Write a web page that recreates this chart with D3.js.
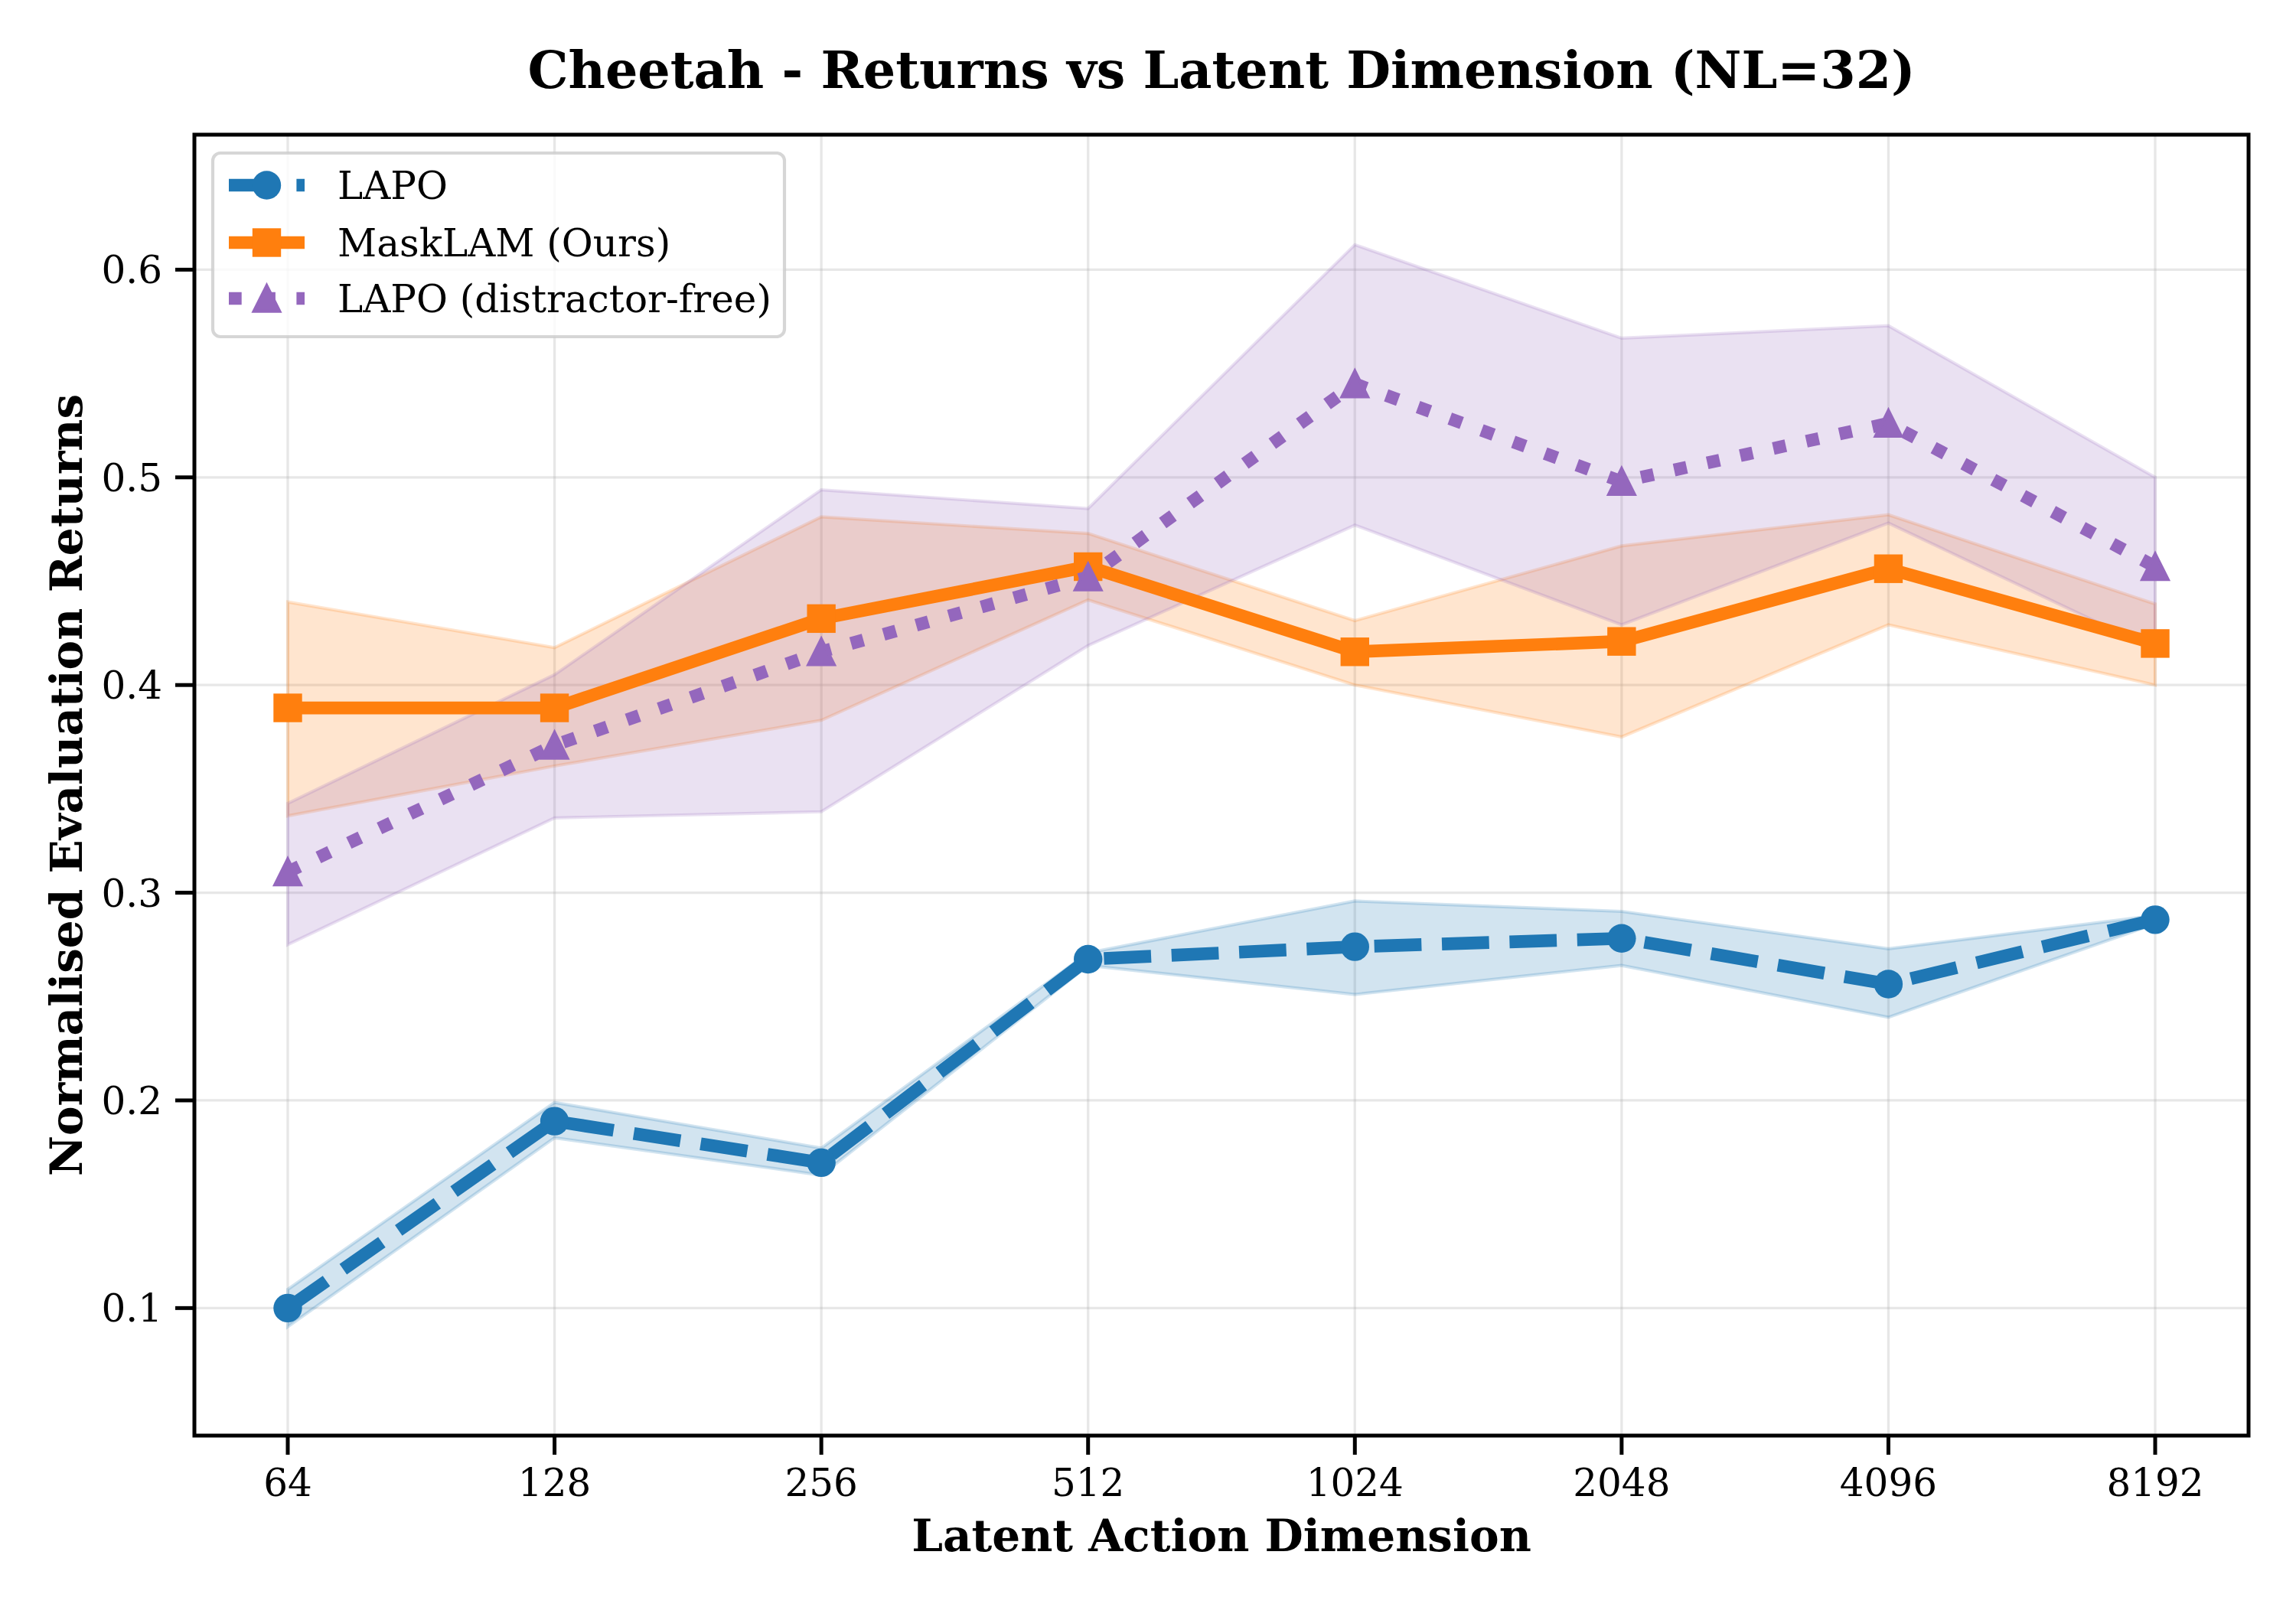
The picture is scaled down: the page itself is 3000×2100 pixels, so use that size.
<!DOCTYPE html>
<html>
<head>
<meta charset="utf-8">
<script src="https://cdn.jsdelivr.net/npm/d3@7"></script>
<style>
    body { margin: 0; background: #fff; }
    svg text { font-family: "DejaVu Serif", serif; fill: #000; }
</style>
</head>
<body>
<svg id="chart" width="3000" height="2100"></svg>
<script>
/** Latent action dimensions (x categories) */
const dims = [64, 128, 256, 512, 1024, 2048, 4096, 8192];

/** LAPO */
const lapoMean = [0.100, 0.190, 0.170, 0.268, 0.274, 0.278, 0.256, 0.287];
const lapoLow  = [0.091, 0.182, 0.164, 0.265, 0.251, 0.265, 0.240, 0.285];
const lapoHigh = [0.109, 0.199, 0.177, 0.271, 0.296, 0.291, 0.273, 0.289];

/** MaskLAM (Ours) */
const maskMean = [0.389, 0.389, 0.432, 0.457, 0.416, 0.421, 0.456, 0.420];
const maskLow  = [0.337, 0.361, 0.383, 0.441, 0.400, 0.375, 0.429, 0.400];
const maskHigh = [0.440, 0.418, 0.481, 0.473, 0.431, 0.467, 0.482, 0.439];

/** LAPO (distractor-free) */
const freeMean = [0.310, 0.371, 0.416, 0.452, 0.545, 0.498, 0.526, 0.457];
const freeLow  = [0.275, 0.336, 0.339, 0.419, 0.477, 0.429, 0.478, 0.417];
const freeHigh = [0.343, 0.405, 0.494, 0.485, 0.612, 0.567, 0.573, 0.500];

const yTicks = [0.1, 0.2, 0.3, 0.4, 0.5, 0.6];

const series = [
    { name: 'LAPO', color: '#1f77b4', mean: lapoMean, low: lapoLow, high: lapoHigh, dash: '61.7,26.7', marker: 'circle', cap: 'butt' },
    { name: 'MaskLAM (Ours)', color: '#ff7f0e', mean: maskMean, low: maskLow, high: maskHigh, dash: null, marker: 'square', cap: 'square' },
    { name: 'LAPO (distractor-free)', color: '#9467bd', mean: freeMean, low: freeLow, high: freeHigh, dash: '16.7,27.5', marker: 'triangle', cap: 'butt' }
];

/** Plot area */
const plotLeft = 254, plotRight = 2938, plotTop = 176, plotBottom = 1876;
const lw = 16.67;

let svg = d3.select('#chart');

let x = d3.scaleLog().base(2)
    .domain([64 / Math.pow(2, 0.35), 8192 * Math.pow(2, 0.35)])
    .range([plotLeft, plotRight]);

let y = d3.scaleLinear()
    .domain([0.0386, 0.665])
    .range([plotBottom, plotTop]);

/** Grid */
let grid = svg.append('g');
grid.selectAll('.gx').data(dims).enter().append('line')
    .attr('x1', d => x(d)).attr('x2', d => x(d))
    .attr('y1', plotTop).attr('y2', plotBottom)
    .attr('stroke', '#b0b0b0').attr('stroke-opacity', 0.3).attr('stroke-width', 3.3);
grid.selectAll('.gy').data(yTicks).enter().append('line')
    .attr('x1', plotLeft).attr('x2', plotRight)
    .attr('y1', d => y(d)).attr('y2', d => y(d))
    .attr('stroke', '#b0b0b0').attr('stroke-opacity', 0.3).attr('stroke-width', 3.3);

/** Std bands */
series.forEach(s => {
    let area = d3.area()
        .x((d, i) => x(dims[i]))
        .y0((d, i) => y(s.low[i]))
        .y1((d, i) => y(s.high[i]));
    svg.append('path')
        .attr('d', area(dims))
        .attr('fill', s.color).attr('fill-opacity', 0.2)
        .attr('stroke', s.color).attr('stroke-opacity', 0.2).attr('stroke-width', 4.2);
});

/** Marker drawing helper */
const drawMarker = (g, type, cx, cy, color) => {
    if (type === 'circle') {
        g.append('circle').attr('cx', cx).attr('cy', cy).attr('r', 18.7).attr('fill', color);
    } else if (type === 'square') {
        g.append('rect').attr('x', cx - 18.7).attr('y', cy - 18.7)
            .attr('width', 37.4).attr('height', 37.4).attr('fill', color);
    } else {
        let h = 16.67;
        g.append('path')
            .attr('d', `M${cx},${cy - h}L${cx - h},${cy + h}L${cx + h},${cy + h}Z`)
            .attr('fill', color).attr('stroke', color).attr('stroke-width', 4.2)
            .attr('stroke-linejoin', 'miter');
    }
};

/** Lines + markers */
series.forEach(s => {
    let line = d3.line()
        .x((d, i) => x(dims[i]))
        .y((d, i) => y(s.mean[i]));
    let g = svg.append('g');
    g.append('path')
        .attr('d', line(dims))
        .attr('fill', 'none')
        .attr('stroke', s.color).attr('stroke-width', lw)
        .attr('stroke-linejoin', 'round')
        .attr('stroke-linecap', s.cap)
        .attr('stroke-dasharray', s.dash);
    dims.forEach((d, i) => drawMarker(g, s.marker, x(d), y(s.mean[i]), s.color));
});

/** Frame */
svg.append('rect')
    .attr('x', plotLeft).attr('y', plotTop)
    .attr('width', plotRight - plotLeft).attr('height', plotBottom - plotTop)
    .attr('fill', 'none').attr('stroke', '#000').attr('stroke-width', 5);

/** X axis ticks */
let xAxis = svg.append('g');
xAxis.selectAll('line').data(dims).enter().append('line')
    .attr('x1', d => x(d)).attr('x2', d => x(d))
    .attr('y1', plotBottom).attr('y2', plotBottom + 25)
    .attr('stroke', '#000').attr('stroke-width', 5);
xAxis.selectAll('text').data(dims).enter().append('text')
    .attr('x', d => x(d)).attr('y', 1955)
    .attr('text-anchor', 'middle').attr('font-size', 50)
    .text(d => d);

/** Y axis ticks */
let yAxis = svg.append('g');
yAxis.selectAll('line').data(yTicks).enter().append('line')
    .attr('x1', plotLeft - 25).attr('x2', plotLeft)
    .attr('y1', d => y(d)).attr('y2', d => y(d))
    .attr('stroke', '#000').attr('stroke-width', 5);
yAxis.selectAll('text').data(yTicks).enter().append('text')
    .attr('x', 212).attr('y', d => y(d) + 18)
    .attr('text-anchor', 'end').attr('font-size', 50)
    .text(d => d.toFixed(1));

/** Axis labels and title */
svg.append('text')
    .attr('x', (plotLeft + plotRight) / 2).attr('y', 2027)
    .attr('text-anchor', 'middle').attr('font-size', 58).attr('font-weight', 'bold')
    .text('Latent Action Dimension');

svg.append('text')
    .attr('transform', `translate(107,${(plotTop + plotBottom) / 2}) rotate(-90)`)
    .attr('text-anchor', 'middle').attr('font-size', 58).attr('font-weight', 'bold')
    .text('Normalised Evaluation Returns');

svg.append('text')
    .attr('x', (plotLeft + plotRight) / 2).attr('y', 115)
    .attr('text-anchor', 'middle').attr('font-size', 66.7).attr('font-weight', 'bold')
    .text('Cheetah - Returns vs Latent Dimension (NL=32)');

/** Legend */
let legend = svg.append('g');
legend.append('rect')
    .attr('x', 278).attr('y', 200).attr('width', 747).attr('height', 240)
    .attr('rx', 10).attr('ry', 10)
    .attr('fill', '#fff').attr('fill-opacity', 0.8)
    .attr('stroke', '#cccccc').attr('stroke-opacity', 0.8).attr('stroke-width', 4.2);

const rowY = [242, 317, 390];
series.forEach((s, i) => {
    let g = legend.append('g');
    g.append('line')
        .attr('x1', 299).attr('x2', 398)
        .attr('y1', rowY[i]).attr('y2', rowY[i])
        .attr('stroke', s.color).attr('stroke-width', lw)
        .attr('stroke-linecap', s.cap === 'square' ? 'butt' : s.cap)
        .attr('stroke-dasharray', s.dash);
    drawMarker(g, s.marker, 348.5, rowY[i], s.color);
    g.append('text')
        .attr('x', 441).attr('y', rowY[i] + 18)
        .attr('font-size', 50)
        .text(s.name);
});
</script>
</body>
</html>
